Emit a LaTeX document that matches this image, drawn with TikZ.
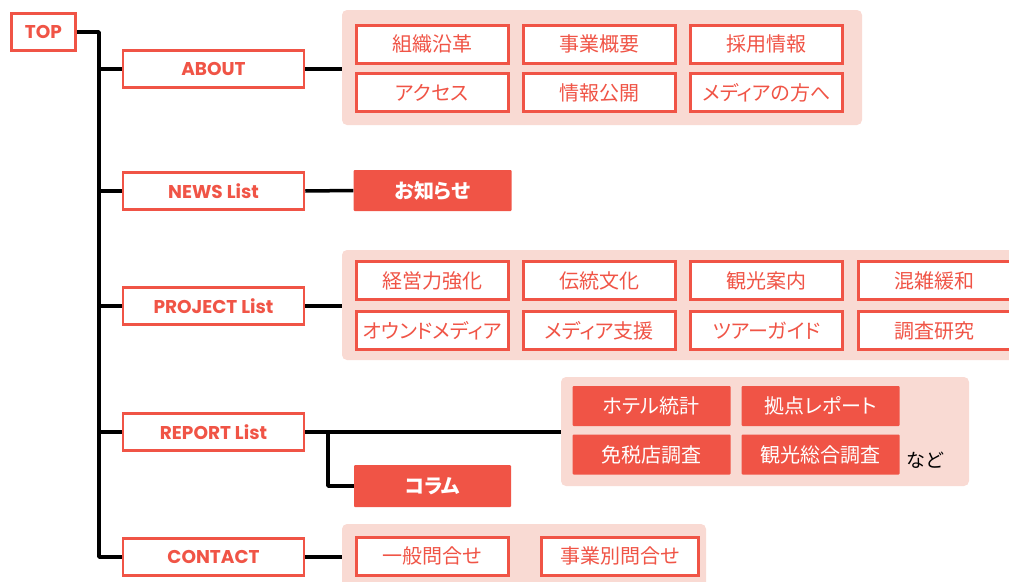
\documentclass[tikz,border=0pt]{standalone}
\usepackage{fontspec}
\setmainfont{Poppins}
\newfontfamily\jpfont[RawFeature=+palt]{Noto Sans CJK JP}
\usetikzlibrary{positioning}
\definecolor{sitered}{HTML}{F05446}
\definecolor{sitepink}{HTML}{F9DAD3}
\tikzset{
pagebox/.style={draw=sitered, line width=2.5pt, fill=white, text=sitered, inner sep=0pt,
  font=\bfseries\fontsize{18.5}{18.5}\selectfont, minimum width=181pt, minimum height=37pt},
subbox/.style={draw=sitered, line width=3pt, fill=white, text=sitered, inner sep=0pt,
  font=\jpfont\fontsize{20}{20}\selectfont, minimum width=152pt, minimum height=38pt},
fillbox/.style={fill=sitered, text=white, inner sep=0pt, rounded corners=1pt,
  font=\jpfont\fontsize{20}{20}\selectfont, minimum width=158pt, minimum height=40pt},
grpbg/.style={fill=sitepink, rounded corners=5pt, inner sep=0pt},
link/.style={draw=black, line width=3.5pt, line join=round}
}
\begin{document}
\begin{tikzpicture}[x=1pt, y=-1pt]
\useasboundingbox (0,0) rectangle (1009,581);
% group backgrounds
\node[grpbg, minimum width=520pt, minimum height=115pt] (aboutgrp) at (602,67.5) {};
\node[grpbg, minimum width=678pt, minimum height=110pt] (projgrp) at (681,305) {};
\node[grpbg, minimum width=408pt, minimum height=109pt] (reportgrp) at (765,431.5) {};
\node[grpbg, minimum width=364pt, minimum height=71pt] (contactgrp) at (524,559.5) {};
% main pages
\node[pagebox, minimum width=64pt] (TOP) at (43.5,32) {TOP};
\node[pagebox] (ABOUT) at (213.5,69) {ABOUT};
\node[pagebox] (NEWS) at (213.5,191) {NEWS List};
\node[pagebox] (PROJECT) at (213.5,306) {PROJECT List};
\node[pagebox] (REPORT) at (213.5,432) {REPORT List};
\node[pagebox] (CONTACT) at (213.5,557) {CONTACT};
% trunk
\coordinate (trunk) at (99,557);
\draw[link] (TOP.east) -| (trunk) -- (CONTACT.west);
\foreach \p in {ABOUT,NEWS,PROJECT,REPORT}
  \draw[link] (\p.west -| trunk) -- (\p.west);
% about
\foreach \t/\x/\y [count=\i] in {組織沿革/432/44, 事業概要/599.5/44, 採用情報/766.5/44,
  アクセス/432/92.5, 情報公開/599.5/92.5, メディアの方へ/766.5/92.5}
  \node[subbox] (about\i) at (\x,\y) {\t};
\draw[link] (ABOUT.east) -- (ABOUT.east -| aboutgrp.west);
% news
\node[fillbox, font=\jpfont\bfseries\fontsize{20}{20}\selectfont, minimum height=41pt] (notice) at (432.5,190.5) {お知らせ};
\draw[link] (NEWS.east) -- (notice.west);
% project
\foreach \t/\x/\y [count=\i] in {経営力強化/432.5/280.5, 伝統文化/599.5/280.5, 観光案内/766.5/280.5, 混雑緩和/934/280.5,
  オウンドメディア/432.5/330.5, メディア支援/599.5/330.5, ツアーガイド/766.5/330.5, 調査研究/934/330.5}
  \node[subbox] (proj\i) at (\x,\y) {\t};
\draw[link] (PROJECT.east) -- (PROJECT.east -| projgrp.west);
% report
\foreach \t/\x/\y [count=\i] in {ホテル統計/651.5/406, 拠点レポート/820.5/406,
  免税店調査/651.5/454.5, 観光総合調査/820.5/454.5}
  \node[fillbox] (report\i) at (\x,\y) {\t};
\node[font=\jpfont\fontsize{19}{19}\selectfont, inner sep=0pt] (etc) at (925,460) {など};
\node[fillbox, font=\jpfont\bfseries\fontsize{20}{20}\selectfont, minimum width=157pt, minimum height=42pt] (column) at (432.5,486) {コラム};
\coordinate (rsplit) at (328,432);
\draw[link] (REPORT.east) -- (REPORT.east -| reportgrp.west);
\draw[link] (rsplit) |- (column.west);
% contact
\node[subbox] (contact1) at (432.5,556) {一般問合せ};
\node[subbox, minimum width=157pt] (contact2) at (620,556) {事業別問合せ};
\draw[link] (CONTACT.east) -- (CONTACT.east -| contactgrp.west);
\end{tikzpicture}
\end{document}
